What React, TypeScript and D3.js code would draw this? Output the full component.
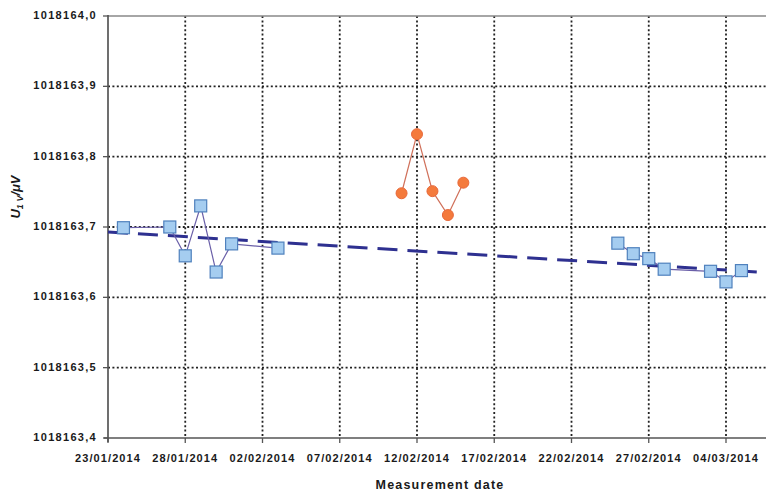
import React from "react";
import * as d3 from "d3";

// blue series (squares)
const blueDates = [
  "2014-01-24", "2014-01-27", "2014-01-28", "2014-01-29", "2014-01-30", "2014-01-31", "2014-02-03",
  "2014-02-25", "2014-02-26", "2014-02-27", "2014-02-28", "2014-03-03", "2014-03-04", "2014-03-05",
];
const blueValues = [
  1018163.699, 1018163.7, 1018163.659, 1018163.73, 1018163.636, 1018163.676, 1018163.67,
  1018163.677, 1018163.662, 1018163.655, 1018163.64, 1018163.637, 1018163.622, 1018163.638,
];

// orange series (circles)
const orangeDates = ["2014-02-11", "2014-02-12", "2014-02-13", "2014-02-14", "2014-02-15"];
const orangeValues = [1018163.748, 1018163.832, 1018163.751, 1018163.717, 1018163.763];

// dashed trend line end points
const trendDates = ["2014-01-23", "2014-03-09"];
const trendValues = [1018163.693, 1018163.632];

const xTickDates = [
  "2014-01-23", "2014-01-28", "2014-02-02", "2014-02-07", "2014-02-12",
  "2014-02-17", "2014-02-22", "2014-02-27", "2014-03-04",
];
const yTicks = [1018163.4, 1018163.5, 1018163.6, 1018163.7, 1018163.8, 1018163.9, 1018164.0];

const parse = d3.utcParse("%Y-%m-%d");
const fmtDate = d3.utcFormat("%d/%m/%Y");
const fmtY = (v: number) => d3.format(".1f")(v).replace(".", ",");

const W = 766;
const H = 492;
const left = 108;
const top = 16;
const bottom = 438;

export default function App() {
  const x = d3
    .scaleUtc()
    .domain([parse("2014-01-23")!, parse("2014-03-09")!])
    .range([left, left + 45 * 15.45]);
  const y = d3.scaleLinear().domain([1018163.4, 1018164.0]).range([bottom, top]);

  const blue = blueDates.map((d, i) => ({ d: parse(d)!, v: blueValues[i] }));
  const orange = orangeDates.map((d, i) => ({ d: parse(d)!, v: orangeValues[i] }));
  const trend = trendDates.map((d, i) => ({ d: parse(d)!, v: trendValues[i] }));

  // split blue line where there is a long gap between measurements
  const blueSegs: { d: Date; v: number }[][] = [[]];
  blue.forEach((p, i) => {
    if (i > 0 && (+p.d - +blue[i - 1].d) / 864e5 > 10) blueSegs.push([]);
    blueSegs[blueSegs.length - 1].push(p);
  });

  const line = d3
    .line<{ d: Date; v: number }>()
    .x((p) => x(p.d))
    .y((p) => y(p.v));

  const tickFont = {
    fontFamily: "'Liberation Sans', Arial, sans-serif",
    fontWeight: 700,
    fontSize: 11,
    fill: "#1a1a1a",
  };

  return (
    <svg width={W} height={H} style={{ position: "absolute", left: 0, top: 0, background: "#fff" }}>
      {/* grid */}
      {yTicks.slice(1, -1).map((t) => (
        <line key={t} x1={left} x2={W} y1={y(t)} y2={y(t)} stroke="#222" strokeWidth={1.8} strokeDasharray="2 2.4" />
      ))}
      {xTickDates.slice(1).map((t) => (
        <line key={t} x1={x(parse(t)!)} x2={x(parse(t)!)} y1={top} y2={bottom} stroke="#222" strokeWidth={1.8} strokeDasharray="2 2.4" />
      ))}
      <line x1={left} x2={W} y1={top} y2={top} stroke="#888" strokeWidth={1.5} />

      {/* axes */}
      <line x1={left} x2={left} y1={top - 1} y2={bottom + 4} stroke="#555" strokeWidth={1.7} />
      <line x1={left - 4} x2={W} y1={bottom} y2={bottom} stroke="#555" strokeWidth={1.7} />
      {yTicks.map((t) => (
        <g key={t}>
          <line x1={left - 5} x2={left} y1={y(t)} y2={y(t)} stroke="#555" strokeWidth={1.3} />
          <text x={left - 11} y={y(t)} textAnchor="end" dominantBaseline="middle" letterSpacing={1.3} {...tickFont}>
            {fmtY(t)}
          </text>
        </g>
      ))}
      {xTickDates.map((t) => (
        <g key={t}>
          <line x1={x(parse(t)!)} x2={x(parse(t)!)} y1={bottom} y2={bottom + 5} stroke="#555" strokeWidth={1.3} />
          <text x={x(parse(t)!)} y={462} textAnchor="middle" letterSpacing={1.1} {...tickFont}>
            {fmtDate(parse(t)!)}
          </text>
        </g>
      ))}

      {/* titles */}
      <text x={440} y={489} textAnchor="middle" {...tickFont} fontSize={12.5} letterSpacing={1.2}>
        Measurement date
      </text>
      <text
        transform="translate(20,197) rotate(-90)"
        textAnchor="middle"
        {...tickFont}
        fontSize={13}
        fontStyle="italic"
      >
        U<tspan fontSize={9} dy={3}>1 V</tspan>
        <tspan dy={-3}>/μV</tspan>
      </text>

      {/* trend */}
      <path d={line(trend)!} fill="none" stroke="#2e3090" strokeWidth={3} strokeDasharray="20 10" />

      {/* blue series */}
      {blueSegs.map((s, i) => (
        <path key={i} d={line(s)!} fill="none" stroke="#6a5fa8" strokeWidth={1.2} />
      ))}
      {blue.map((p, i) => (
        <rect
          key={i}
          x={x(p.d) - 6}
          y={y(p.v) - 6}
          width={12}
          height={12}
          fill="#a5cdf0"
          stroke="#4f81bd"
          strokeWidth={1.2}
        />
      ))}

      {/* orange series */}
      <path d={line(orange)!} fill="none" stroke="#d0705a" strokeWidth={1.2} />
      {orange.map((p, i) => (
        <circle key={i} cx={x(p.d)} cy={y(p.v)} r={5.5} fill="#f47a3c" stroke="#e8683a" strokeWidth={1} />
      ))}
    </svg>
  );
}
